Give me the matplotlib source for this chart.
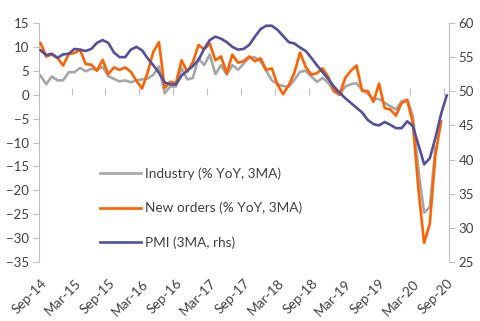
import numpy as np
import matplotlib
matplotlib.use("Agg")
import matplotlib.pyplot as plt
from matplotlib.lines import Line2D

nan = np.nan
tick_labels = ["Sep-14", "Mar-15", "Sep-15", "Mar-16", "Sep-16", "Mar-17", "Sep-17",
               "Mar-18", "Sep-18", "Mar-19", "Sep-19", "Mar-20", "Sep-20"]

industry = [4.0, 2.2, 3.8, 3.0, 3.0, 4.7, 4.7, 5.6, 4.9, 5.4, 5.2, 5.8, 3.9, 3.3, 2.8, 3.0, 2.6, 3.0, 3.2,
            3.4, 4.2, 5.9, 0.3, 1.7, 1.7, 5.6, 3.2, 3.5, 7.6, 6.2, 8.4, 4.3, 6.2, 4.2, 6.2, 5.2,
            6.5, 7.8, 7.8, 7.0, 5.0, 3.0, 2.2, 1.8, 1.7, 3.1, 4.8, 5.0, 3.8, 2.7, 3.5, 2.5, 0.6, 0.0,
            1.7, 2.2, 2.4, 1.0, 0.2, -0.9, -0.9, -1.7, -2.4, -3.1, -1.4, -1.0, -4.5, -16.0, -24.7,
            -23.5, -11.0, nan, nan]

new_orders = [10.8, 8.0, 8.4, 7.7, 6.1, 8.5, 8.7, 9.4, 6.4, 6.3, 5.0, 7.3, 4.3, 5.7, 5.2, 5.7, 4.8, 2.9, 1.3,
              4.7, 9.0, 11.0, 1.4, 2.7, 2.4, 7.2, 4.8, 6.8, 10.4, 9.5, 10.7, 7.2, 8.0, 4.5, 8.4, 6.7, 7.0, 8.0,
              7.0, 7.6, 5.2, 5.5, 2.1, 0.1, 2.0, 4.6, 8.8, 5.8, 4.2, 4.5, 5.5, 3.7, 1.0, 0.0, 3.5, 5.0, 6.1,
              0.8, 0.8, -1.5, 2.3, -2.8, -3.1, -4.4, -1.7, -1.2, -6.0, -20.0, -31.0, -27.0, -12.5, -5.6, nan]

pmi = [56.0, 55.3, 55.5, 54.9, 55.4, 55.5, 56.2, 56.1, 55.9, 56.2, 57.1, 57.5, 57.1, 55.7, 55.0, 55.0,
       56.1, 56.5, 56.0, 54.8, 53.8, 52.7, 51.3, 51.0, 51.0, 52.3, 53.0, 53.7, 54.6, 56.2, 57.5, 58.0,
       57.7, 57.2, 56.5, 56.1,
       56.2, 56.8, 58.0, 59.1, 59.6, 59.6, 59.0, 58.1, 57.2, 57.0, 56.4, 55.9, 54.9, 53.8, 52.8, 51.8,
       50.7, 49.8, 49.0, 48.3, 47.6, 46.9, 45.8, 45.2, 45.0, 45.5, 45.1, 44.6, 44.6, 45.6, 44.9, 42.1,
       39.3, 40.2, 43.2, 46.7, 49.4]

labels = ["Industry (% YoY, 3MA)", "New orders (% YoY, 3MA)", "PMI (3MA, rhs)"]

GREY = "#A6A6A6"
ORANGE = "#FF6200"
PURPLE = "#525199"
AXC = "#BFBFBF"
TXT = "#404040"

plt.rcParams['font.family'] = ['Lato', 'DejaVu Sans']

W, H = 480, 321
fig = plt.figure(figsize=(W / 100, H / 100), dpi=100)
ax = fig.add_axes([39 / W, 1 - 262 / H, (449 - 39) / W, (262 - 23) / H])
ax2 = ax.twinx()

x = np.arange(len(pmi))
lw = 1.9
ax.plot(x, industry, color=GREY, lw=lw, zorder=2)
ax.plot(x, new_orders, color=ORANGE, lw=lw, zorder=3)
ax2.plot(x, pmi, color=PURPLE, lw=lw, zorder=3)

ax.set_xlim(-0.27, 72.4)
ax.set_ylim(-35, 15)
ax2.set_ylim(25, 60)
ax.set_yticks(np.arange(-35, 16, 5))
ax2.set_yticks(np.arange(25, 61, 5))

for s in ["top", "bottom", "right"]:
    ax.spines[s].set_visible(False)
for s in ["top", "bottom", "left"]:
    ax2.spines[s].set_visible(False)
ax.spines["left"].set_color(AXC)
ax2.spines["right"].set_color(AXC)

ax.tick_params(axis="y", length=4, color=AXC, labelcolor=TXT, labelsize=9.5, pad=3)
ax2.tick_params(axis="y", length=4, color=AXC, labelcolor=TXT, labelsize=9.5, pad=3)

# x labels under plot
ax.set_xticks(np.arange(0, 73, 6))
ax.set_xticklabels(tick_labels, rotation=45, ha="right", rotation_mode="anchor")
ax.tick_params(axis="x", length=0, labelcolor=TXT, labelsize=9.8, pad=11)

# zero axis line with tick marks between categories
zero_pos = (0 - (-35)) / 50
sec = ax.secondary_xaxis(zero_pos)
sec.set_xticks(np.arange(5.5, 72, 6))
sec.tick_params(axis="x", length=5, color=AXC, labelbottom=False, labeltop=False, direction="out")
sec.spines["bottom"].set_color(AXC)
sec.spines["bottom"].set_linewidth(1.0)
for s in ["top", "left", "right"]:
    if s in sec.spines:
        sec.spines[s].set_visible(False)

handles = [Line2D([], [], color=c, lw=lw) for c in (GREY, ORANGE, PURPLE)]
ax2.legend(handles, labels, loc="center left", bbox_to_anchor=(100 / W, 1 - 208 / H),
           bbox_transform=fig.transFigure, frameon=False, fontsize=9.8, handlelength=3.0,
           handletextpad=0.3, labelspacing=1.6, borderpad=0, borderaxespad=0, labelcolor=TXT)

fig.savefig("out.png", dpi=100)
